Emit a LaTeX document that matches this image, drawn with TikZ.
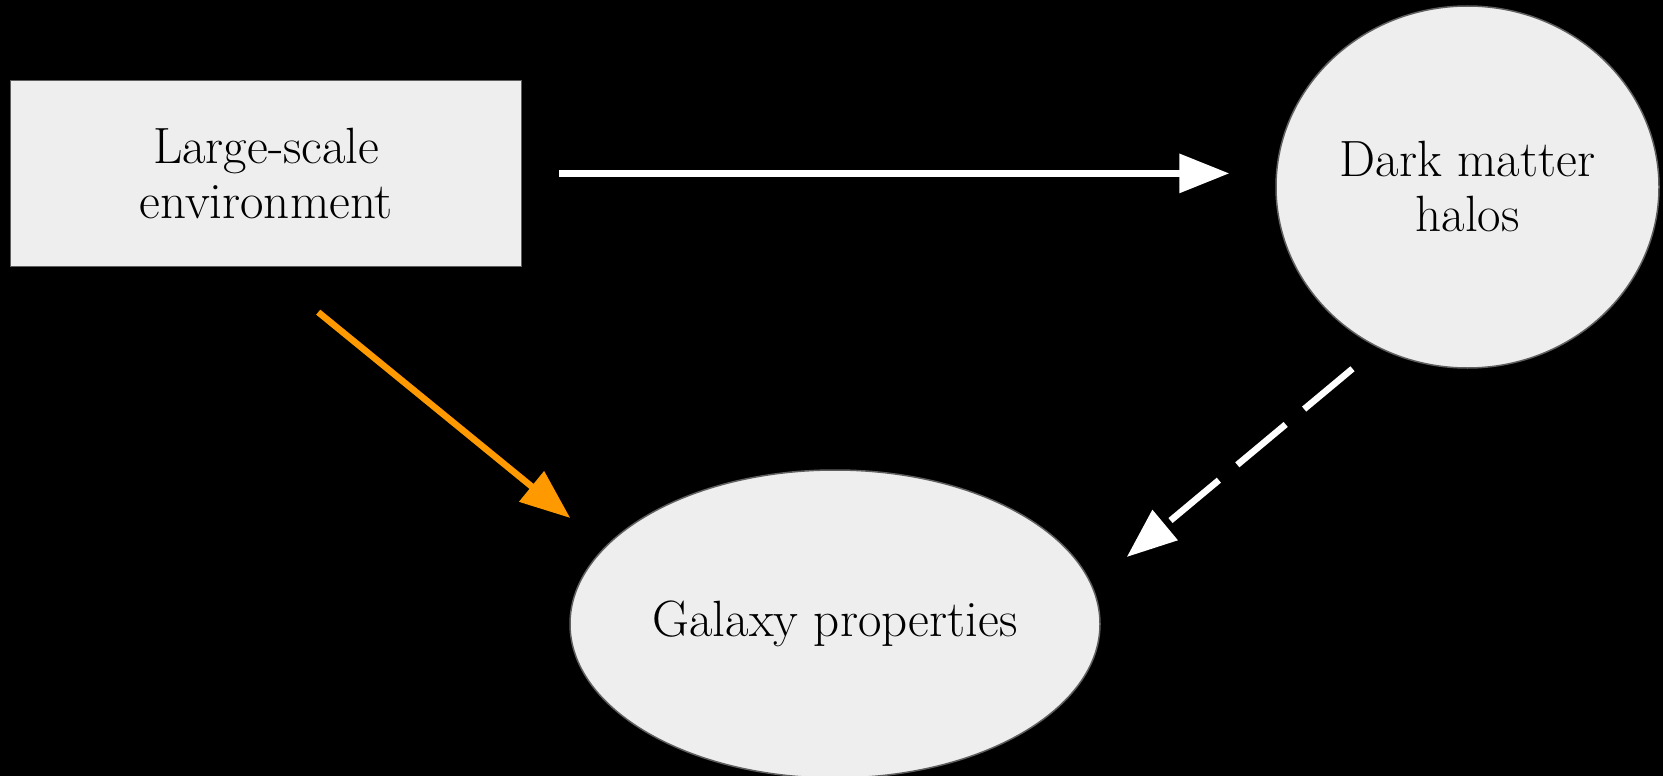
\documentclass[tikz,border=0pt]{standalone}
\usepackage{fontspec}
\usepackage{tikz}
\definecolor{node_gray}{HTML}{EEEEEE}
\definecolor{edge_gray}{HTML}{5F5F5F}
\definecolor{accent}{HTML}{FF9900}
\tikzset{
  label_font/.style = {font=\fontsize{51}{55}\selectfont},
  node_background/.style = {fill=node_gray, draw=edge_gray, line width=1.5pt}
}
\tikzset{
  box/.style = {label_font, node_background, align=center, inner sep=0, minimum width=511, minimum height=186},
  blob/.style = {label_font, node_background, align=center, ellipse, inner sep=0},
  link/.style = {line width=6.5pt, -{Triangle[length=50pt, width=38pt]}},
  link_white/.style = {link, white},
  link_orange/.style = {link, accent},
  link_dashed/.style = {link, white, dash pattern=on 63pt off 24pt}
}
\usetikzlibrary{arrows.meta, shapes.geometric, positioning}

\begin{document}
\begin{tikzpicture}[x=1pt, y=-1pt]
        \fill[black] (0,0) rectangle (1663,776);
        \useasboundingbox (0,0) rectangle (1663,776);

        % Nodes
        \node[box] (env) at (266.2,173.4) {
            Large-scale\\environment};
        \node[blob, minimum width=383, minimum height=362] (halo) at (1467.5,187) {
            Dark matter\\halos};
        \node[blob, minimum width=530, minimum height=308] (gal) at (835,624) {
            Galaxy properties};

        % Arrows
        \draw[link_white, shorten <=37pt, shorten >=46pt] (env.east)--(env.east -| halo.west);
        \draw[link_orange] ([shift={(52,45)}]env.south)--([shift={(1,-106)}]gal.west);
        \draw[link_dashed] ([shift={(-115,0)}]halo.south)--([shift={(26,-67)}]gal.east);
\end{tikzpicture}
\end{document}
